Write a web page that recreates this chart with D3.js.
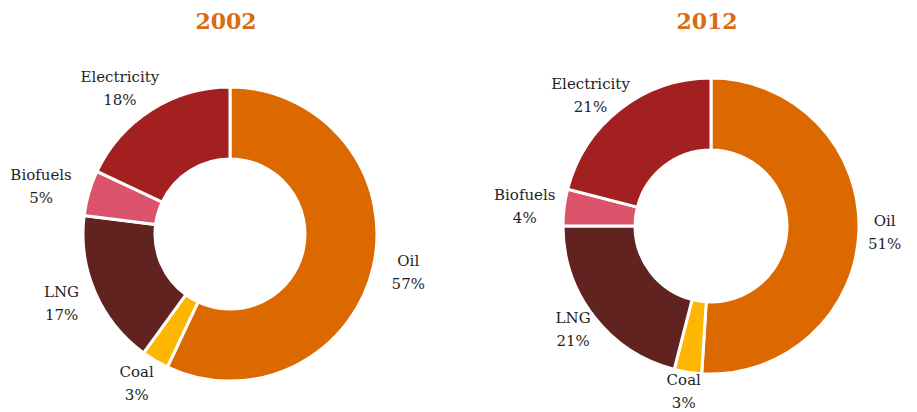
<!DOCTYPE html>
<html><head><meta charset="utf-8">
<script src="https://cdnjs.cloudflare.com/ajax/libs/d3/7.8.5/d3.min.js"></script>
<style>body{margin:0;background:#fff}svg{display:block}</style>
</head><body>
<svg id="c" width="917" height="412"></svg>
<script>
const categories = ["Oil", "Coal", "LNG", "Biofuels", "Electricity"];
const values2002 = [57, 3, 17, 5, 18];
const values2012 = [51, 3, 21, 4, 21];
const years = ["2002", "2012"];
const colors = ["#dc6900", "#ffb600", "#602320", "#db536a", "#a32020"];

const svg = d3.select("#c");
const color = d3.scaleOrdinal().domain(categories).range(colors);
const charts = [
  {year: years[0], values: values2002, cx: 230, cy: 234, r: 147, ir: 75, lr: 166, hh: 7},
  {year: years[1], values: values2012, cx: 711, cy: 226, r: 148, ir: 76, lr: 157, hh: 10}
];
const pie = d3.pie().sort(null).value(d => d.v);

charts.forEach(c => {
  const g = svg.append("g").attr("transform", `translate(${c.cx},${c.cy})`);
  const data = categories.map((k, i) => ({k, v: c.values[i]}));
  const arcs = pie(data);
  const arc = d3.arc().innerRadius(c.ir).outerRadius(c.r);
  const labelArc = d3.arc().innerRadius(c.lr).outerRadius(c.lr);
  g.selectAll("path").data(arcs).join("path")
    .attr("d", arc)
    .attr("fill", d => color(d.data.k))
    .attr("stroke", "#fff").attr("stroke-width", 3).attr("stroke-linejoin", "miter");
  const lab = g.selectAll("text.lab").data(arcs).join("text")
    .attr("class", "lab")
    .attr("text-anchor", "middle")
    .attr("font-family", "DejaVu Serif")
    .attr("font-size", 15)
    .attr("fill", "#1e1e1e");
  lab.append("tspan").attr("class", "l1").attr("x", 0).text(d => d.data.k);
  lab.append("tspan").attr("class", "l2").attr("x", 0).text(d => d.data.v + "%");
  lab.each(function(d) {
    const t = d3.select(this);
    const hw = this.getBBox().width / 2;
    const a = (d.startAngle + d.endAngle) / 2;
    const p = labelArc.centroid(d);
    const x = p[0] + Math.sin(a) * hw;
    const y = p[1] - Math.cos(a) * c.hh;
    t.attr("transform", `translate(${x},${y})`);
    t.select(".l1").attr("y", -5.5);
    t.select(".l2").attr("y", 17.5);
  });
  svg.append("text")
    .attr("x", c.cx - 4).attr("y", 29)
    .attr("text-anchor", "middle")
    .attr("font-family", "DejaVu Serif").attr("font-weight", "bold")
    .attr("font-size", 22).attr("fill", "#dc6a0f")
    .text(c.year);
});
</script>
</body></html>
